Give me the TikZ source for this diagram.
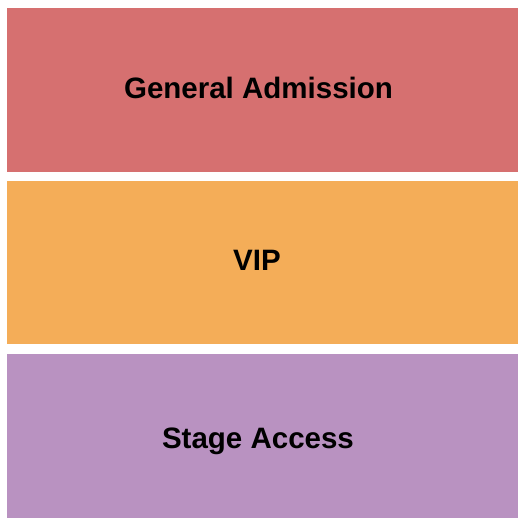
\documentclass[tikz,border=0pt]{standalone}
\usepackage{fontspec}
\setmainfont{Liberation Sans}
\definecolor{gacolor}{RGB}{214,112,112}
\definecolor{vipcolor}{RGB}{244,173,88}
\definecolor{stagecolor}{RGB}{185,146,193}
\begin{document}
\begin{tikzpicture}
                [x=1bp, y=-1bp,
                  section/.style={draw=none, inner sep=0pt, minimum width=511bp, minimum height=164bp, anchor=north west},
                  caption/.style={font=\fontsize{29.5bp}{34bp}\selectfont\bfseries, text=black, inner sep=0pt, anchor=base},
                ]
                \useasboundingbox (0,0) rectangle (525,525);
                % sections
                \node [section, fill=gacolor] (ga) at (7,8) {};
                \node [section, fill=vipcolor, minimum height=163bp] (vip) at (7,181) {};
                \node [section, fill=stagecolor] (stage) at (7,354) {};
                % labels (placed on their baselines)
                \node [caption] (galabel) at (258.5,99) {General Admission};
                \node [caption] (viplabel) at (257,270) {VIP};
                \node [caption] (stagelabel) at (258,448) {Stage Access};
            \end{tikzpicture}
\end{document}
